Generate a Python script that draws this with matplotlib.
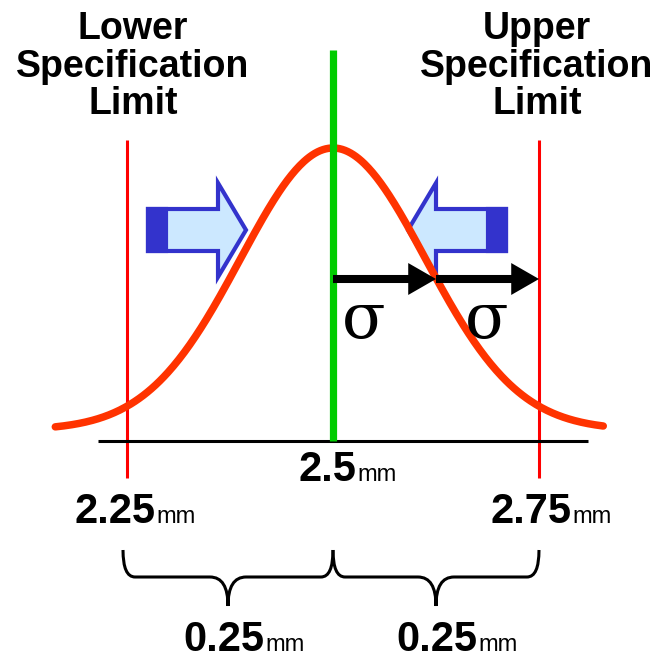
import numpy as np
import matplotlib.pyplot as plt
from matplotlib.patches import Polygon, Rectangle, PathPatch
from matplotlib.path import Path

# spec values (mm)
lsl = 2.25
target = 2.5
usl = 2.75
sigma = 0.125            # sigma arrows: target -> target+sigma -> usl
curve_sd = 0.1124        # drawn width of the bell curve
curve_lo, curve_hi = 2.163, 2.828
curve_base, curve_peak = 11, 282
spec_numbers = ["2.25", "2.5", "2.75"]
tol_number = "0.25"
unit = "mm"
lsl_title = "Lower\nSpecification\nLimit"
usl_title = "Upper\nSpecification\nLimit"

PX = 824.0  # pixels per mm in the output

fig = plt.figure(figsize=(6.69, 6.61), dpi=100)
ax = fig.add_axes([0, 0, 1, 1])
ax.set_xlim(target - 333 / PX, target + 336 / PX)
ax.set_ylim(-220, 441)
ax.axis("off")

SANS = ["Liberation Sans", "DejaVu Sans"]
BLUE_DARK = "#3333cc"
BLUE_LIGHT = "#cce8ff"

# baseline
ax.plot([target - 235 / PX, target + 255 / PX], [0, 0], color="black", lw=2.2,
        solid_capstyle="butt", zorder=3)

# spec limits and target
for v in (lsl, usl):
    ax.plot([v, v], [-37, 301], color="#ff0000", lw=2.2, solid_capstyle="butt", zorder=2)
ax.plot([target, target], [0, 391], color="#00cc00", lw=5.2, solid_capstyle="butt", zorder=5)

# bell curve
x = np.linspace(curve_lo, curve_hi, 400)
y = curve_base + curve_peak * np.exp(-(x - target) ** 2 / (2 * curve_sd ** 2))
ax.plot(x, y, color="#ff3300", lw=5.4, solid_capstyle="round", zorder=4)


# blue block arrows pushing toward the centre
def block_arrow(x_tail, x_tip, yc):
    d = np.sign(x_tip - x_tail)
    x_head = x_tip - d * 28 / PX
    bh, hh = 21, 47
    pts = [(x_tail, yc + bh), (x_head, yc + bh), (x_head, yc + hh), (x_tip, yc),
           (x_head, yc - hh), (x_head, yc - bh), (x_tail, yc - bh)]
    ax.add_patch(Polygon(pts, closed=True, fc=BLUE_LIGHT, ec=BLUE_DARK, lw=3,
                         joinstyle="miter", zorder=3))
    w = 18 / PX
    ax.add_patch(Rectangle((min(x_tail, x_tail + d * w), yc - bh), w, 2 * bh,
                           fc=BLUE_DARK, ec=BLUE_DARK, lw=3, zorder=3))


block_arrow(target - 185 / PX, target - 87 / PX, 211)
block_arrow(target + 173 / PX, target + 75 / PX, 211)

# sigma arrows
arrow_y = 162
for a, b in [(target, target + sigma), (target + sigma, usl)]:
    ax.annotate("", xy=(b, arrow_y), xytext=(a, arrow_y),
                arrowprops=dict(arrowstyle="simple,head_length=1.0,head_width=1.15,tail_width=0.29",
                                mutation_scale=20, fc="black", ec="none",
                                shrinkA=0, shrinkB=0), zorder=6)
for xs in (target + 31 / PX, target + 154 / PX):
    ax.text(xs, 121, "σ", fontsize=46, family="DejaVu Serif",
            ha="center", va="center", zorder=6)

# titles
ax.text(lsl + 6 / PX, 430, lsl_title, fontsize=27, fontweight="bold", family=SANS,
        ha="center", va="top", linespacing=1.06)
ax.text(usl - 2 / PX, 430, usl_title, fontsize=27, fontweight="bold", family=SANS,
        ha="center", va="top", linespacing=1.06)


def value_label(xs, yb, num):
    ax.text(xs, yb, num, fontsize=30, fontweight="bold", family=SANS,
            ha="right", va="baseline")
    ax.text(xs + 1 / PX, yb, unit, fontsize=17, family=SANS,
            ha="left", va="baseline")


value_label(lsl + 28 / PX, -82, spec_numbers[0])
value_label(target + 23 / PX, -40, spec_numbers[1])
value_label(usl + 32 / PX, -82, spec_numbers[2])


# braces
def brace(x0, x1, ytop=-109, ymid=-136, ybot=-165):
    xc = (x0 + x1) / 2
    r_end, r_mid = 12 / PX, 18 / PX
    verts = [(x0, ytop), (x0, ymid), (x0 + r_end, ymid),
             (xc - r_mid, ymid), (xc, ymid), (xc, ybot),
             (xc, ymid), (xc + r_mid, ymid),
             (x1 - r_end, ymid), (x1, ymid), (x1, ytop)]
    codes = [Path.MOVETO, Path.CURVE3, Path.CURVE3,
             Path.LINETO, Path.CURVE3, Path.CURVE3,
             Path.CURVE3, Path.CURVE3,
             Path.LINETO, Path.CURVE3, Path.CURVE3]
    ax.add_patch(PathPatch(Path(verts, codes), fill=False, ec="black", lw=2.2))


brace(lsl - 4 / PX, target)
brace(target, usl)

value_label(target - 69 / PX, -210, tol_number)
value_label(target + 144.5 / PX, -210, tol_number)

fig.savefig("out.png", dpi=100)
